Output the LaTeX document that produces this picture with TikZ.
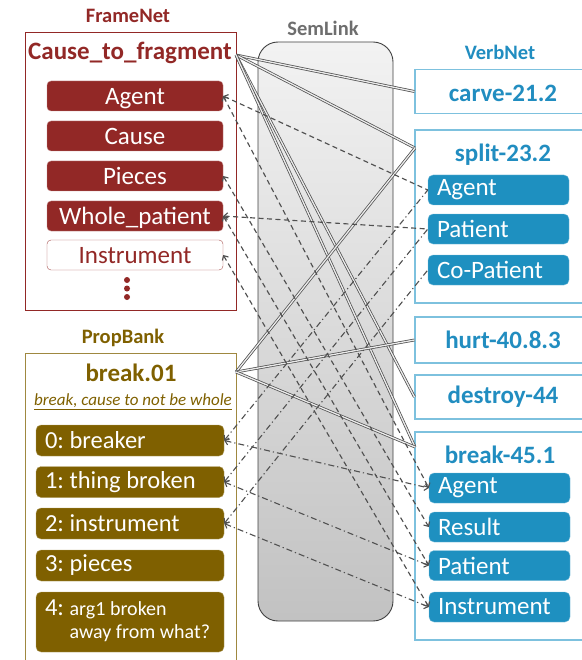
\documentclass[tikz,border=0pt]{standalone}
\usepackage{fontspec}
\setmainfont{Carlito}
\usetikzlibrary{arrows.meta}
\definecolor{fnred}{RGB}{146,40,38}
\definecolor{pbol}{RGB}{127,96,0}
\definecolor{vnblue}{RGB}{30,144,192}
\definecolor{vntext}{RGB}{33,141,192}
\definecolor{vnline}{RGB}{125,193,222}
\definecolor{lk}{RGB}{80,80,80}
\definecolor{sltxt}{RGB}{110,110,110}
\newcommand{\tightsp}{\spaceskip=0.23em\relax}
\begin{document}
\frenchspacing
\begin{tikzpicture}[x=1pt,y=-1pt,
  >={Straight Barb[length=3.5pt,width=7pt]},
  ttl/.style={font=\fontsize{20.5}{24}\selectfont\bfseries, inner sep=0},
  bigttl/.style={font=\fontsize{25}{30}\selectfont\bfseries, inner sep=0},
  fnrole/.style={rounded corners=4pt, fill=fnred, draw=fnred!55, text=white, minimum width=176, minimum height=30, inner sep=0, text height=20, text depth=3, font=\fontsize{25}{30}\selectfont},
  pbrole/.style={rounded corners=5pt, fill=pbol, draw=pbol!60, text=white, text width=170, inner xsep=9, inner ysep=0, align=left, minimum height=31, font=\fontsize{24.5}{29}\selectfont, execute at begin node=\tightsp},
  vnrole/.style={rounded corners=5pt, fill=vnblue, draw=vnblue!60, text=white, text width=123, inner xsep=9, inner ysep=0, align=left, minimum height=30, font=\fontsize{25}{30}\selectfont},
  vnbox/.style={draw=vnline, line width=1.1pt, inner sep=0},
  dbl/.style={draw=lk, double=white!92!black, double distance=1.3pt, line width=0.75pt},
  fnl/.style={draw=lk, line width=1.15pt, dash pattern=on 5pt off 3.5pt},
  pbl/.style={draw=lk, line width=1.1pt, dash pattern=on 6pt off 3pt on 1.2pt off 3pt}
]
\useasboundingbox (0,0) rectangle (581,660);

% SemLink
\node[ttl, text=sltxt] (sltitle) at (323,28) {SemLink};
\shade[top color=gray!10, bottom color=gray!48, draw=black!75, line width=0.9pt, rounded corners=20pt] (258,42) rectangle (393,621);

% FrameNet
\node[ttl, text=fnred] (fntitle) at (128,16) {FrameNet};
\node[draw=fnred, line width=0.8pt, minimum width=211, minimum height=278, inner sep=0] (fnbox) at (130.5,171) {};
\node[bigttl, text=fnred] (fnframe) at (130,53) {Cause\_to\_fragment};
\coordinate (fnc) at (236,55);
\node[fnrole] (fa) at (135,96) {Agent};
\node[fnrole] (fc) at (135,136) {Cause};
\node[fnrole] (fp) at (135,176) {Pieces};
\node[fnrole] (fw) at (135,216) {Whole\_patient};
\node[fnrole, fill=white, draw=fnred!80, text=fnred] (fi) at (135,255) {Instrument};
\fill[fnred] (127,280) circle (3pt) (127,288.5) circle (3pt) (127,297) circle (3pt);

% PropBank
\node[ttl, text=pbol] (pbtitle) at (123,338) {PropBank};
\draw[pbol!75, line width=0.8pt] (25,670) -- (25,353) -- (236,353) -- (236,670);
\node[bigttl, text=pbol] (pbframe) at (131,373) {break.01};
\coordinate (pbc) at (236,372);
\node[inner sep=0, text=pbol, font=\fontsize{17}{20}\selectfont\itshape] (pbdesc) at (133,402) {\underline{break, cause to not be whole}};
\node[pbrole] (p0) at (130,440.5) {0: breaker};
\node[pbrole] (p1) at (130,482) {1: thing broken};
\node[pbrole] (p2) at (130,523.5) {2: instrument};
\node[pbrole] (p3) at (130,565.5) {3: pieces};
\node[pbrole, minimum height=60] (p4) at (130,622) {4:~\fontsize{20}{23}\selectfont\tightsp\begin{tabular}[t]{@{}l@{}}arg1 broken\\away from what?\end{tabular}};

% VerbNet
\node[ttl, text=vntext] (vntitle) at (500,52) {VerbNet};
\node[vnbox, minimum width=175, minimum height=44] (carve) at (502.5,91.5) {};
\node[bigttl, text=vntext] (carvet) at (503,93) {carve-21.2};
\node[vnbox, minimum width=175, minimum height=173] (split) at (502.5,216.5) {};
\node[bigttl, text=vntext] (splitt) at (503,155) {split-23.2};
\coordinate (splitin) at (415,148);
\node[vnrole] (sa) at (498.5,190) {Agent};
\node[vnrole] (sp) at (498.5,229) {Patient};
\node[vnrole] (sc) at (498.5,270) {Co-Patient};
\node[vnbox, minimum width=175, minimum height=46] (hurt) at (502.5,340) {};
\node[bigttl, text=vntext] (hurtt) at (503,340) {hurt-40.8.3};
\node[vnbox, minimum width=175, minimum height=44] (destroy) at (502.5,397) {};
\node[bigttl, text=vntext] (destroyt) at (503,397) {destroy-44};
\node[vnbox, minimum width=175, minimum height=208] (brk) at (502.5,536) {};
\node[bigttl, text=vntext] (brkt) at (500,455) {break-45.1};
\coordinate (brkin) at (415,447);
\node[vnrole] (ba) at (499.5,488) {Agent};
\node[vnrole] (br) at (499.5,527) {Result};
\node[vnrole] (bp) at (499.5,565.5) {Patient};
\node[vnrole] (bi) at (499.5,607) {Instrument};

% double links (frames / classes)
\draw[dbl] (fnc) -- (carve.west);
\draw[dbl] (fnc) -- (splitin);
\draw[dbl] (fnc) -- (destroy.west);
\draw[dbl] (fnc) -- (brkin);
\draw[dbl] (pbc) -- (splitin);
\draw[dbl] (pbc) -- (hurt.west);
\draw[dbl] (pbc) -- (brkin);

% FrameNet - VerbNet role links
\draw[fnl, <-] (fa.east) -- (sa.west);
\draw[fnl, <->] (fa.east) -- (ba.west);
\draw[fnl, <->] (fp.east) -- (br.west);
\draw[fnl, <-] (fw.east) -- (sp.west);
\draw[fnl, <->] (fw.east) -- (bp.west);
\draw[fnl, <->] (fi.east) -- (bi.west);

% PropBank - VerbNet role links
\draw[pbl, <-] (p0.east) -- (sa.west);
\draw[pbl, <->] (p0.east) -- (ba.west);
\draw[pbl, <-] (p1.east) -- (sp.west);
\draw[pbl, <->] (p1.east) -- (bp.west);
\draw[pbl, <-] (p2.east) -- (sc.west);
\draw[pbl, <->] (p2.east) -- (bi.west);
\end{tikzpicture}
\end{document}
